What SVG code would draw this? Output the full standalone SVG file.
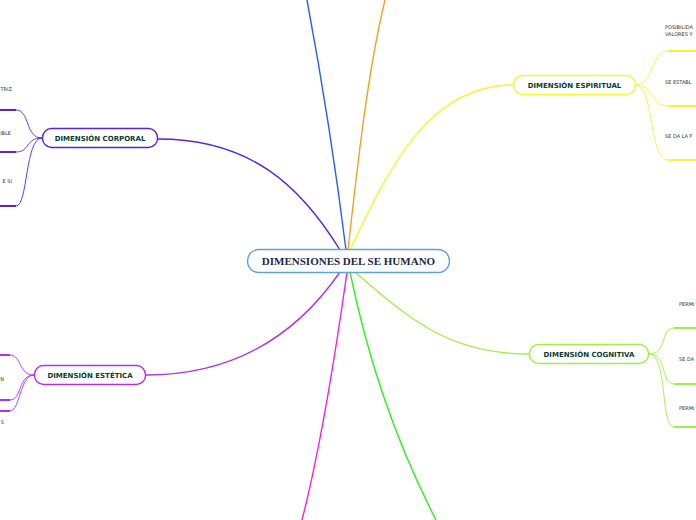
<svg xmlns="http://www.w3.org/2000/svg" width="696" height="520" viewBox="0 0 696 520">
<style>
.main{fill:none;stroke-width:1.4;stroke-linecap:round}
.sub{fill:none;stroke-width:0.9}
.ul{fill:none;stroke-width:2}
.box{fill:#fff;stroke-width:1.4}
.lbl{font-family:"DejaVu Sans",Verdana,sans-serif;font-weight:bold;font-size:7px;fill:#0a3d2e;text-anchor:middle}
.sm{font-family:"DejaVu Sans",Verdana,sans-serif;font-size:5px;fill:#333}
.ctr{font-family:"Liberation Serif","Times New Roman",serif;font-weight:bold;font-size:11px;fill:#1a2850;text-anchor:middle}
</style>
<rect width="696" height="520" fill="#fff"/>
<g id="connectors">
<path class="main" stroke="#2a5ff5" d="M346,250 C336,170 322,80 307,0"/>
<path class="main" stroke="#f5a020" d="M348,250 C358,160 368,70 385,0"/>
<path class="main" stroke="#f5f530" d="M350,250 C390,165 430,85 513,85"/>
<path class="main" stroke="#5522ee" d="M340,250 C300,185 250,139 158,139"/>
<path class="main" stroke="#b030f0" d="M340,272 C300,330 240,375 146,375"/>
<path class="main" stroke="#f020e0" d="M347,272 C336,350 320,450 302,520"/>
<path class="main" stroke="#30f020" d="M350,272 C370,370 400,450 436,520"/>
<path class="main" stroke="#a0f040" d="M355,272 C410,320 450,354 529,354"/>
<!-- espiritual subs -->
<path class="sub" stroke="#f5f530" d="M635,85 C655,85 650,51 668,51"/>
<path class="sub" stroke="#f5f530" d="M635,85 C655,85 650,106 668,106"/>
<path class="sub" stroke="#f5f530" d="M635,85 C655,85 648,160 668,160"/>
<path class="ul" stroke="#f5f530" d="M668,51 H696 M668,106 H696 M668,160 H696"/>
<!-- cognitiva subs -->
<path class="sub" stroke="#a0f040" d="M649,354 C668,354 660,328 674,328"/>
<path class="sub" stroke="#a0f040" d="M649,354 C668,354 660,384 674,384"/>
<path class="sub" stroke="#a0f040" d="M649,354 C668,354 660,427 674,427"/>
<path class="ul" stroke="#a0f040" d="M674,328 H696 M674,384 H696 M674,427 H696"/>
<!-- corporal subs -->
<path class="sub" stroke="#5522ee" d="M42,138 C25,138 30,110 16,110"/>
<path class="sub" stroke="#5522ee" d="M42,138 C25,138 30,152 16,152"/>
<path class="sub" stroke="#5522ee" d="M42,138 C25,138 28,206 16,206"/>
<path class="ul" stroke="#5522ee" d="M0,110 H16 M0,152 H16 M0,206 H16"/>
<!-- estetica subs -->
<path class="sub" stroke="#b030f0" d="M34,375 C18,375 22,355 10,355"/>
<path class="sub" stroke="#b030f0" d="M34,375 C18,375 22,400 10,400"/>
<path class="sub" stroke="#b030f0" d="M34,375 C20,375 20,411 10,411"/>
<path class="ul" stroke="#b030f0" d="M0,355 H10 M0,400 H10 M0,411 H10"/>
</g>
<g id="center">
<rect class="box" x="247.5" y="249.5" width="202" height="23" rx="11.5" stroke="#5ba3d8"/>
<text class="ctr" x="348.5" y="265">DIMENSIONES DEL SE HUMANO</text>
</g>
<g id="espiritual">
<rect class="box" x="513.5" y="75.5" width="122" height="19" rx="9" stroke="#f5f530"/>
<text class="lbl" x="574.5" y="88">DIMENSIÓN ESPIRITUAL</text>
<text class="sm" x="665" y="29">POSIBILIDA</text>
<text class="sm" x="665" y="36">VALORES Y</text>
<text class="sm" x="665" y="84">SE ESTABL</text>
<text class="sm" x="665" y="138">SE DA LA F</text>
</g>
<g id="cognitiva">
<rect class="box" x="529.5" y="344.5" width="119" height="19" rx="9" stroke="#a0f040"/>
<text class="lbl" x="589" y="357">DIMENSIÓN COGNITIVA</text>
<text class="sm" x="679" y="306">PERMI</text>
<text class="sm" x="679" y="361">SE DA</text>
<text class="sm" x="679" y="410">PERMI</text>
</g>
<g id="corporal">
<rect class="box" x="42.5" y="128.5" width="115" height="19" rx="9" stroke="#5522ee"/>
<text class="lbl" x="100" y="141">DIMENSIÓN CORPORAL</text>
<text class="sm" x="12" y="91" text-anchor="end">TRIZ</text>
<text class="sm" x="11" y="135" text-anchor="end">IBLE</text>
<text class="sm" x="12" y="183" text-anchor="end">E SI</text>
</g>
<g id="estetica">
<rect class="box" x="34.5" y="365.5" width="111" height="19" rx="9" stroke="#b030f0"/>
<text class="lbl" x="90" y="378">DIMENSIÓN ESTÉTICA</text>
<text class="sm" x="4" y="381" text-anchor="end">N</text>
<text class="sm" x="4" y="424" text-anchor="end">S</text>
</g>
</svg>
